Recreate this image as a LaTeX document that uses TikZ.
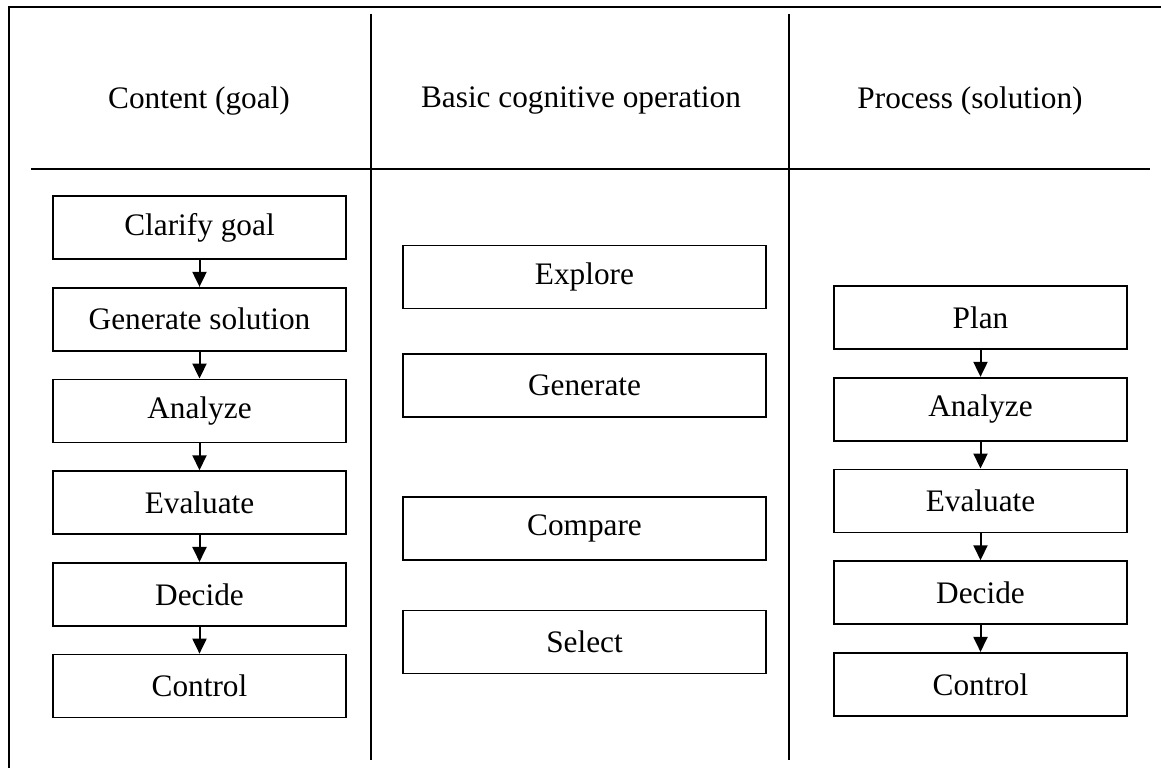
\documentclass[tikz,border=0pt]{standalone}
\usepackage{fontspec}
\setmainfont{Liberation Serif}
\usetikzlibrary{
    arrows.meta,
    positioning,
}

\begin{document}
\begin{tikzpicture}[
        x=1pt, y=-1pt,
        >={Triangle[length=15pt,width=14pt]},
        node distance=27pt,
        box/.style={
            rectangle, draw=black, line width=1.7pt,
            minimum width=#1, minimum height=63pt, inner sep=0pt,
            text centered, font=\fontsize{31.3}{36}\selectfont
        },
        box/.default=293pt,
        head/.style={font=\fontsize{31.3}{36}\selectfont},
        arrow/.style={->, line width=2pt, shorten <=0pt, shorten >=0pt},
        rule/.style={line width=1.6pt},
    ]
    \useasboundingbox (0,0) rectangle (1161,768);

    % ── Frame and column rules ──
    \draw[line width=2.5pt] (1161,7) -- (9,7) -- (9,768);
    \draw[rule] (371,14) -- (371,760);
    \draw[rule] (789,14) -- (789,760);
    \draw[rule] (31,169) -- (1150,169);

    % ── Column heads ──
    \node[head] (content) at (199,101) {Content (goal)};
    \node[head] (basic) at (581,101) {Basic cognitive operation};
    \node[head] (process) at (970,101) {Process (solution)};

    % ── Content (goal) ──
    \node[box] (clarify) at (199.5,227.5) {Clarify goal};
    \node[box, below=of clarify] (gensol) {Generate solution};
    \node[box, below=of gensol] (analyzeL) {Analyze};
    \node[box, below=of analyzeL] (evaluateL) {Evaluate};
    \node[box, below=of evaluateL] (decideL) {Decide};
    \node[box, below=of decideL] (controlL) {Control};

    % ── Basic cognitive operation ──
    \node[box=363pt] (explore) at (584.5,277) {Explore};
    \node[box=363pt, below=44pt of explore] (generate) {Generate};
    \node[box=363pt, below=78pt of generate] (compare) {Compare};
    \node[box=363pt, below=49pt of compare] (select) {Select};

    % ── Process (solution) ──
    \node[box] (plan) at (980.5,317.5) {Plan};
    \node[box, below=of plan] (analyzeR) {Analyze};
    \node[box, below=of analyzeR] (evaluateR) {Evaluate};
    \node[box, below=of evaluateR] (decideR) {Decide};
    \node[box, below=of decideR] (controlR) {Control};

    % ── Arrows ──
    \draw[arrow] (clarify) -- (gensol);
    \draw[arrow] (gensol) -- (analyzeL);
    \draw[arrow] (analyzeL) -- (evaluateL);
    \draw[arrow] (evaluateL) -- (decideL);
    \draw[arrow] (decideL) -- (controlL);
    \draw[arrow] (plan) -- (analyzeR);
    \draw[arrow] (analyzeR) -- (evaluateR);
    \draw[arrow] (evaluateR) -- (decideR);
    \draw[arrow] (decideR) -- (controlR);

\end{tikzpicture}
\end{document}
